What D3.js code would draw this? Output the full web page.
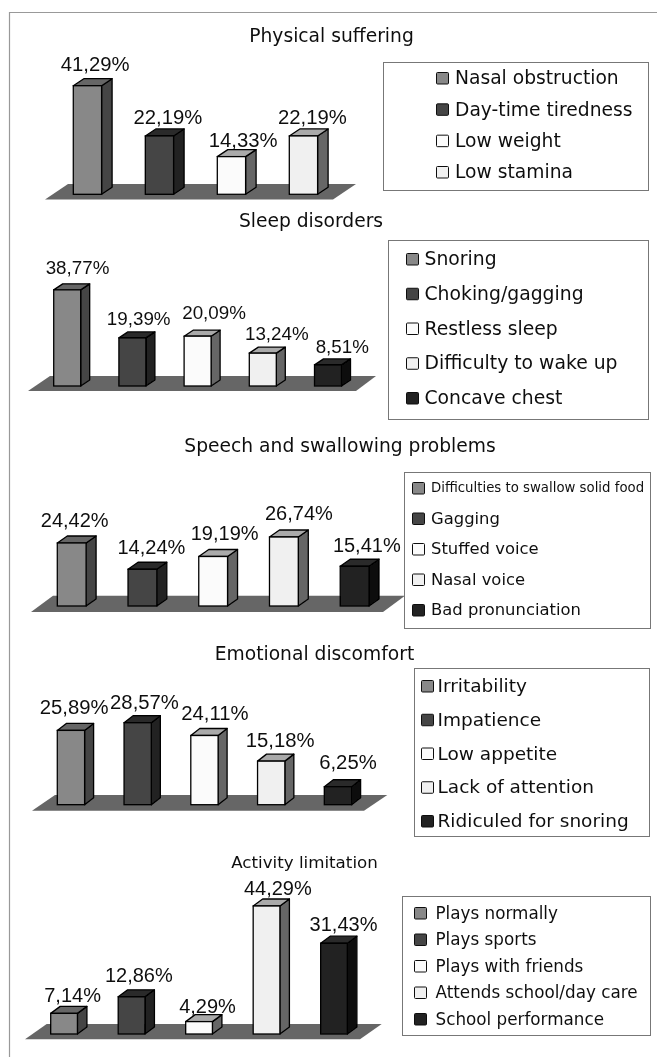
<!DOCTYPE html>
<html>
<head>
<meta charset="utf-8">
<script src="https://cdn.jsdelivr.net/npm/d3@7"></script>
<style>
  html, body { margin: 0; padding: 0; background: #fff; }
  svg { display: block; }
</style>
</head>
<body>
<div id="container"></div>
<script>
// the numbers, one pair of arrays per panel
const physicalNames = ["Nasal obstruction", "Day-time tiredness", "Low weight", "Low stamina"];
const physicalValues = [41.29, 22.19, 14.33, 22.19];
const sleepNames = ["Snoring", "Choking/gagging", "Restless sleep", "Difficulty to wake up", "Concave chest"];
const sleepValues = [38.77, 19.39, 20.09, 13.24, 8.51];
const speechNames = ["Difficulties to swallow solid food", "Gagging", "Stuffed voice", "Nasal voice", "Bad pronunciation"];
const speechValues = [24.42, 14.24, 19.19, 26.74, 15.41];
const emotionalNames = ["Irritability", "Impatience", "Low appetite", "Lack of attention", "Ridiculed for snoring"];
const emotionalValues = [25.89, 28.57, 24.11, 15.18, 6.25];
const activityNames = ["Plays normally", "Plays sports", "Plays with friends", "Attends school/day care", "School performance"];
const activityValues = [7.14, 12.86, 4.29, 44.29, 31.43];

// front, side and top shade of each bar, same order in every panel
const frontColors = ["#888888", "#444444", "#fbfbfb", "#f0f0f0", "#222222"];
const sideColors = ["#444444", "#222222", "#666666", "#666666", "#111111"];
const topColors = ["#666666", "#2a2a2a", "#aaaaaa", "#aaaaaa", "#2a2a2a"];

const width = 657;
const height = 1057;

const svg = d3.select("#container")
    .append("svg")
    .attr("width", width)
    .attr("height", height);

// the original is a slightly soft scan
svg.append("filter")
    .attr("id", "soft")
    .append("feGaussianBlur")
    .attr("stdDeviation", 0.4);

const root = svg.append("g").attr("filter", "url(#soft)");

root.append("rect")
    .attr("width", width)
    .attr("height", height)
    .attr("fill", "#fff");

// outer frame, only top and left show in the picture
root.append("path")
    .attr("d", "M9.5,1057V12.5H657")
    .attr("fill", "none")
    .attr("stroke", "#999")
    .attr("stroke-width", 1.2);

function panel(p) {
    const g = root.append("g");
    const depthX = p.depth[0];
    const depthY = p.depth[1];

    g.append("text")
        .attr("x", p.titleX)
        .attr("y", p.titleY)
        .attr("text-anchor", "middle")
        .attr("font-family", "'DejaVu Sans'")
        .attr("font-size", p.titleSize)
        .attr("fill", "#111")
        .text(p.title);

    // floor under the bars: bottom left, bottom right, top right, top left
    const f = p.floor;
    g.append("polygon")
        .attr("points", [[f[0], f[5]], [f[1], f[5]], [f[2], f[4]], [f[3], f[4]]].join(" "))
        .attr("fill", "#666");

    const x = d3.scaleBand()
        .domain(p.names)
        .range(p.xRange)
        .paddingInner(p.inner)
        .paddingOuter(0);

    const y = d3.scaleLinear()
        .domain([0, 100])
        .range([p.base, p.base - p.unit * 100]);

    const bars = g.selectAll("g.bar")
        .data(p.values)
        .join("g")
        .attr("class", "bar");

    const bw = x.bandwidth();
    const left = (d, i) => x(p.names[i]);

    // side face
    bars.append("path")
        .attr("d", (d, i) => {
            const a = left(d, i) + bw;
            return `M${a},${y(d)}l${depthX},${-depthY}V${p.base - depthY}l${-depthX},${depthY}Z`;
        })
        .attr("fill", (d, i) => sideColors[i])
        .attr("stroke", "#000")
        .attr("stroke-width", 1.3)
        .attr("stroke-linejoin", "round");

    // top face
    bars.append("path")
        .attr("d", (d, i) => {
            const a = left(d, i);
            return `M${a},${y(d)}l${depthX},${-depthY}h${bw}l${-depthX},${depthY}Z`;
        })
        .attr("fill", (d, i) => topColors[i])
        .attr("stroke", "#000")
        .attr("stroke-width", 1.3)
        .attr("stroke-linejoin", "round");

    // front face
    bars.append("rect")
        .attr("x", (d, i) => left(d, i))
        .attr("y", d => y(d))
        .attr("width", bw)
        .attr("height", d => p.base - y(d))
        .attr("fill", (d, i) => frontColors[i])
        .attr("stroke", "#000")
        .attr("stroke-width", 1.3);

    // value labels use a comma like the original, they sit unevenly over the bars
    bars.append("text")
        .attr("x", (d, i) => left(d, i) + bw / 2 + p.labelDx[i])
        .attr("y", (d, i) => y(d) - p.labelDy[i])
        .attr("text-anchor", "middle")
        .attr("font-family", "'Liberation Sans'")
        .attr("font-size", p.labelSize)
        .attr("fill", "#111")
        .text(d => d3.format(".2f")(d).replace(".", ",") + "%");

    // legend box
    const b = p.box;
    g.append("rect")
        .attr("x", b[0] + 0.5)
        .attr("y", b[1] + 0.5)
        .attr("width", b[2] - b[0])
        .attr("height", b[3] - b[1])
        .attr("fill", "#fff")
        .attr("stroke", "#777");

    const legendY = d3.scalePoint()
        .domain(p.names)
        .range(p.legendRange);

    const rows = g.selectAll("g.row")
        .data(p.names)
        .join("g")
        .attr("class", "row")
        .attr("transform", d => `translate(${p.swatchX},${legendY(d)})`);

    rows.append("rect")
        .attr("x", 0)
        .attr("y", -5.5)
        .attr("width", 12)
        .attr("height", 11.5)
        .attr("rx", 1)
        .attr("fill", (d, i) => frontColors[i])
        .attr("stroke", "#111")
        .attr("stroke-width", 1);

    rows.append("text")
        .attr("x", p.textGap)
        .attr("y", 0)
        .attr("dy", "0.33em")
        .attr("font-family", "'DejaVu Sans'")
        .attr("font-size", (d, i) => (p.legendSizes ? p.legendSizes[i] : p.legendSize))
        .attr("fill", "#111")
        .text(d => d);
}

panel({
    title: "Physical suffering", titleX: 331.5, titleY: 42, titleSize: 18.7,
    names: physicalNames, values: physicalValues,
    xRange: [73.3, 317.6], inner: 0.607, base: 194.3, unit: 2.63, depth: [10.5, 7],
    floor: [45, 333, 356, 68, 184, 199.5],
    labelSize: 20.3, labelDx: [7.7, 8.5, 11.7, 9], labelDy: [15, 12, 9.7, 12],
    box: [383, 62, 648, 190],
    swatchX: 436.5, textGap: 18.5, legendRange: [78, 172], legendSize: 18.7
});

panel({
    title: "Sleep disorders", titleX: 311, titleY: 227.3, titleSize: 18.7,
    names: sleepNames, values: sleepValues,
    xRange: [53.7, 341.5], inner: 0.586, base: 386, unit: 2.48, depth: [9, 6],
    floor: [28, 356, 376, 50, 376, 391],
    labelSize: 18.8, labelDx: [10.3, 6.3, 16.5, 14, 14.3], labelDy: [16, 13.3, 17, 13.3, 11.4],
    box: [388, 240, 648, 419],
    swatchX: 406.5, textGap: 18, legendRange: [259, 398], legendSize: 18.8
});

panel({
    title: "Speech and swallowing problems", titleX: 340, titleY: 451.5, titleSize: 18.7,
    names: speechNames, values: speechValues,
    xRange: [57.3, 369], inner: 0.593, base: 606, unit: 2.58, depth: [10, 7],
    floor: [31, 383, 405, 53, 595.7, 612],
    labelSize: 20, labelDx: [3, 9, 11.5, 15, 12.2], labelDy: [16, 15.3, 16.3, 16.6, 14.6],
    box: [404, 472, 650, 628],
    swatchX: 412.5, textGap: 18.5, legendRange: [488, 610], legendSize: 16.4,
    legendSizes: [13.3, 16.4, 16.4, 16.4, 16.4]
});

panel({
    title: "Emotional discomfort", titleX: 314.5, titleY: 659.5, titleSize: 18.7,
    names: emotionalNames, values: emotionalValues,
    xRange: [57.3, 351.6], inner: 0.591, base: 804.7, unit: 2.87, depth: [9, 7],
    floor: [32, 364, 387.3, 55, 795, 810.7],
    labelSize: 20.3, labelDx: [3.2, 6.8, 10.5, 9, 10], labelDy: [16, 14, 15.3, 13.7, 17.7],
    box: [414, 668, 649, 836],
    swatchX: 421.5, textGap: 16, legendRange: [686, 821], legendSize: 18.5
});

panel({
    title: "Activity limitation", titleX: 304.5, titleY: 868, titleSize: 16.7,
    names: activityNames, values: activityValues,
    xRange: [50.7, 347.4], inner: 0.604, base: 1034, unit: 2.89, depth: [9.5, 7],
    floor: [25, 360, 381.7, 46.7, 1024, 1039.3],
    labelSize: 20, labelDx: [8.5, 7.3, 8.5, 11.3, 9.5], labelDy: [11, 14.5, 9, 11, 12.3],
    box: [402, 896, 650, 1035],
    swatchX: 414.5, textGap: 21, legendRange: [913, 1019], legendSize: 16.8
});
</script>
</body>
</html>
